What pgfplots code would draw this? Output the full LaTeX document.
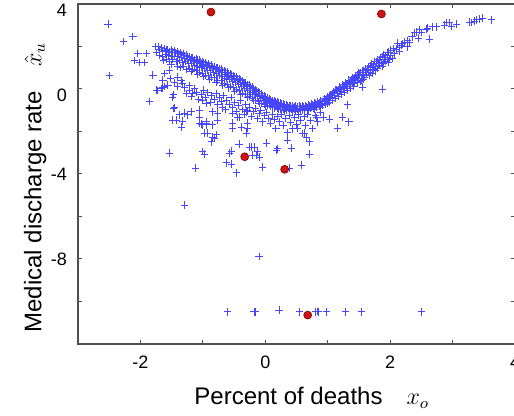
\documentclass[border=0pt]{standalone}
\usepackage{fontspec}
\setmainfont{Liberation Sans}
\usepackage{pgfplots}
\pgfplotsset{compat=1.18}
\usepackage{pgfplotstable}

\definecolor{spine}{RGB}{80,80,80}
\definecolor{crossblue}{RGB}{70,70,250}
\definecolor{dotred}{RGB}{205,20,20}
\definecolor{dotedge}{RGB}{130,0,0}

% blue crosses
\pgfplotstableread{
x y
-2.52 3.06
-2.27 2.23
-2.12 2.46
-2.04 1.68
-1.90 1.68
-2.10 1.33
-2.02 1.24
-1.94 1.24
-2.49 0.63
-1.80 0.66
-1.61 0.74
-1.64 0.42
-1.72 -0.08
-1.66 0.03
-1.61 0.11
-1.85 -0.60
-1.47 -0.28
-1.47 -0.91
-1.53 0.89
-1.29 -5.46
-0.10 -7.90
-0.60 -10.49
-0.18 -10.49
-0.16 -10.49
0.22 -10.40
0.55 -10.49
0.81 -10.49
0.83 -10.47
0.85 -10.49
0.98 -10.49
1.29 -10.49
1.54 -10.49
2.50 -10.49
-1.76 2.00
-1.74 1.72
-1.71 1.98
-1.69 1.85
-1.70 1.60
-1.66 1.95
-1.64 1.78
-1.65 1.52
-1.63 1.33
-1.61 1.90
-1.59 1.83
-1.60 1.64
-1.58 1.41
-1.56 1.87
-1.54 1.76
-1.55 1.58
-1.53 1.29
-1.51 1.84
-1.49 1.74
-1.50 1.55
-1.48 1.40
-1.51 1.16
-1.46 1.80
-1.44 1.70
-1.45 1.52
-1.43 1.31
-1.41 1.76
-1.39 1.68
-1.40 1.55
-1.38 1.35
-1.41 1.08
-1.36 1.71
-1.34 1.63
-1.35 1.47
-1.33 1.25
-1.36 1.02
-1.31 1.65
-1.29 1.58
-1.30 1.45
-1.28 1.28
-1.31 1.05
-1.26 1.60
-1.24 1.52
-1.25 1.40
-1.23 1.18
-1.26 0.93
-1.21 1.53
-1.19 1.47
-1.20 1.36
-1.18 1.20
-1.21 0.98
-1.19 0.82
-1.16 1.48
-1.14 1.40
-1.15 1.30
-1.13 1.12
-1.16 0.90
-1.11 1.41
-1.09 1.36
-1.10 1.25
-1.08 1.08
-1.11 0.85
-1.09 0.70
-1.06 1.36
-1.04 1.29
-1.05 1.18
-1.03 1.02
-1.06 0.80
-1.01 1.29
-0.99 1.24
-1.00 1.12
-0.98 0.96
-1.01 0.75
-0.99 0.58
-0.96 1.24
-0.94 1.17
-0.95 1.06
-0.93 0.88
-0.96 0.66
-0.91 1.18
-0.89 1.12
-0.90 1.02
-0.88 0.85
-0.91 0.63
-0.89 0.46
-0.86 1.13
-0.84 1.06
-0.85 0.95
-0.83 0.78
-0.86 0.55
-0.81 1.07
-0.79 1.01
-0.80 0.90
-0.78 0.73
-0.81 0.52
-0.79 0.33
-0.76 1.01
-0.74 0.94
-0.75 0.83
-0.73 0.65
-0.76 0.42
-0.71 0.94
-0.69 0.88
-0.70 0.77
-0.68 0.60
-0.71 0.38
-0.69 0.19
-0.66 0.87
-0.64 0.80
-0.65 0.69
-0.63 0.51
-0.66 0.28
-0.61 0.80
-0.59 0.74
-0.60 0.62
-0.58 0.45
-0.61 0.23
-0.59 0.05
-0.56 0.73
-0.54 0.66
-0.55 0.54
-0.53 0.36
-0.56 0.12
-0.51 0.65
-0.49 0.59
-0.50 0.47
-0.48 0.30
-0.51 0.07
-0.49 -0.10
-0.46 0.57
-0.44 0.50
-0.45 0.38
-0.43 0.20
-0.46 -0.03
-0.41 0.49
-0.39 0.43
-0.40 0.31
-0.38 0.14
-0.41 -0.08
-0.39 -0.25
-0.36 0.39
-0.34 0.32
-0.35 0.20
-0.33 0.03
-0.36 -0.19
-0.31 0.29
-0.29 0.23
-0.30 0.11
-0.28 -0.06
-0.31 -0.26
-0.29 -0.40
-0.26 0.19
-0.24 0.12
-0.25 0.01
-0.23 -0.15
-0.26 -0.36
-0.21 0.09
-0.19 0.03
-0.20 -0.08
-0.18 -0.24
-0.21 -0.43
-0.19 -0.54
-0.16 -0.02
-0.14 -0.08
-0.15 -0.19
-0.13 -0.34
-0.16 -0.52
-0.11 -0.13
-0.09 -0.19
-0.10 -0.29
-0.08 -0.43
-0.11 -0.60
-0.09 -0.70
-0.06 -0.23
-0.04 -0.29
-0.05 -0.39
-0.03 -0.52
-0.06 -0.68
-0.01 -0.33
0.01 -0.38
0.00 -0.47
0.02 -0.59
-0.01 -0.73
0.01 -0.80
0.04 -0.41
0.06 -0.46
0.05 -0.55
0.07 -0.66
0.04 -0.79
0.09 -0.49
0.11 -0.53
0.10 -0.61
0.12 -0.71
0.09 -0.83
0.11 -0.89
0.14 -0.55
0.16 -0.59
0.15 -0.67
0.17 -0.77
0.14 -0.89
0.19 -0.61
0.21 -0.65
0.20 -0.72
0.22 -0.81
0.19 -0.91
0.21 -0.96
0.24 -0.66
0.26 -0.70
0.25 -0.77
0.27 -0.86
0.24 -0.96
0.29 -0.71
0.31 -0.74
0.30 -0.81
0.32 -0.89
0.29 -0.98
0.31 -1.01
0.34 -0.74
0.36 -0.78
0.35 -0.84
0.37 -0.92
0.34 -1.01
0.39 -0.77
0.41 -0.80
0.40 -0.87
0.42 -0.95
0.39 -1.03
0.44 -0.79
0.46 -0.83
0.45 -0.89
0.47 -0.97
0.44 -1.04
0.49 -0.80
0.51 -0.84
0.50 -0.90
0.52 -0.98
0.49 -1.05
0.54 -0.80
0.56 -0.84
0.55 -0.91
0.57 -0.99
0.59 -0.79
0.61 -0.83
0.60 -0.89
0.62 -0.97
0.59 -1.03
0.64 -0.77
0.66 -0.81
0.65 -0.88
0.67 -0.96
0.69 -0.74
0.71 -0.78
0.70 -0.85
0.72 -0.93
0.69 -1.00
0.74 -0.70
0.76 -0.74
0.75 -0.82
0.77 -0.91
0.79 -0.65
0.81 -0.70
0.80 -0.78
0.82 -0.88
0.79 -0.96
0.84 -0.59
0.86 -0.64
0.85 -0.72
0.87 -0.83
0.89 -0.53
0.91 -0.58
0.90 -0.67
0.92 -0.78
0.89 -0.86
0.94 -0.45
0.96 -0.50
0.95 -0.60
0.97 -0.72
0.99 -0.36
1.01 -0.42
1.00 -0.52
1.02 -0.64
0.99 -0.70
1.04 -0.25
1.06 -0.31
1.05 -0.41
1.07 -0.55
1.09 -0.13
1.11 -0.19
1.10 -0.30
1.12 -0.44
1.14 -0.02
1.16 -0.09
1.15 -0.20
1.17 -0.35
1.19 0.09
1.21 0.02
1.20 -0.10
1.22 -0.24
1.24 0.20
1.26 0.13
1.25 0.01
1.27 -0.15
1.29 0.31
1.31 0.24
1.30 0.11
1.32 -0.05
1.34 0.42
1.36 0.33
1.35 0.20
1.37 0.04
1.39 0.54
1.41 0.46
1.40 0.32
1.42 0.14
1.44 0.65
1.46 0.55
1.45 0.40
1.49 0.76
1.51 0.67
1.50 0.50
1.52 0.34
1.55 0.86
1.56 0.62
1.60 0.97
1.61 0.78
1.59 0.55
1.65 1.06
1.66 0.85
1.70 1.20
1.71 1.00
1.69 0.78
1.75 1.28
1.76 1.05
1.80 1.40
1.81 1.18
1.79 0.95
1.85 1.50
1.86 1.25
1.90 1.62
1.91 1.40
1.89 1.18
1.95 1.70
1.96 1.48
2.00 1.83
2.01 1.60
1.99 1.38
2.05 1.92
2.07 1.65
1.03 -0.30
1.08 -0.22
1.13 -0.05
1.18 0.00
1.23 0.12
1.28 0.22
1.33 0.36
1.38 0.45
1.43 0.52
1.48 0.68
1.53 0.78
1.58 0.88
1.63 0.92
1.68 1.10
1.73 1.15
1.78 1.30
1.83 1.38
1.88 1.52
1.93 1.58
1.98 1.74
1.47 0.30
1.57 0.45
1.67 0.65
1.77 0.85
1.87 1.05
1.97 1.25
1.43 0.25
1.62 0.68
1.73 0.90
1.83 1.10
1.93 1.30
2.03 1.45
2.10 1.88
2.15 1.95
2.20 2.12
2.28 2.30
2.15 1.75
2.12 2.16
2.18 2.07
2.23 2.21
2.31 2.21
2.27 1.98
2.35 2.45
2.39 2.64
2.42 2.68
2.47 2.78
2.50 2.64
2.45 2.40
2.58 2.82
2.60 2.87
2.68 2.92
2.74 2.92
2.63 2.35
2.87 3.01
2.90 3.11
2.95 3.11
2.98 2.96
3.06 3.06
3.27 3.15
3.30 3.11
3.35 3.20
3.38 3.25
3.43 3.29
3.48 3.34
3.62 3.25
1.03 -1.41
1.16 -1.84
1.24 -1.32
1.34 -1.55
1.32 -0.75
1.56 0.09
1.88 0.00
1.72 0.75
1.54 0.42
-1.53 -3.01
-1.12 -3.72
-1.00 -2.96
-0.97 -3.06
-0.84 -2.26
-0.81 -2.31
-0.78 -2.16
-0.86 -2.49
-0.97 -2.07
-1.32 -1.51
-1.02 -1.65
-0.95 -1.69
-0.84 -1.69
-0.57 -3.01
-0.54 -2.92
-0.62 -3.48
-0.54 -3.53
-0.46 -3.95
-0.42 -2.59
-0.30 -2.07
-0.28 -1.84
-0.22 -2.73
-0.14 -3.11
-1.48 -1.46
-1.37 -1.22
-1.24 -1.22
-1.45 -0.89
-1.48 -0.38
-1.34 -1.79
-1.18 -1.08
-1.05 -0.99
-1.05 -1.60
-1.00 -1.69
-0.94 -1.60
-0.92 -2.07
-0.76 -1.13
-0.68 -0.89
-0.52 -1.13
-0.44 -1.36
-0.52 -1.84
-0.38 -1.79
-1.64 0.05
-1.74 -0.05
-1.56 0.19
-1.80 0.66
-0.25 -2.73
-0.09 -3.20
-0.04 -3.67
0.39 -3.72
0.58 -3.58
0.71 -3.06
0.42 -2.78
0.18 -2.87
0.02 -2.54
0.66 -2.26
0.71 -2.49
0.52 -1.84
0.82 -1.36
-0.17 -2.73
-0.12 -2.96
-0.20 -3.11
0.36 -2.40
0.20 -2.82
0.63 -2.07
-1.40 0.56
-1.32 0.28
-1.21 -0.05
-1.16 -0.19
-1.00 -0.52
-0.94 -0.66
-1.05 -1.32
-0.94 -1.55
-0.84 -1.08
-0.76 -1.46
-0.68 -0.85
-0.52 -1.60
-0.41 -1.32
-0.30 -1.08
-0.28 -1.60
-1.29 -1.13
-1.42 -1.46
-1.52 0.48
-1.45 0.30
-1.40 0.12
-1.35 0.38
-1.30 0.05
-1.26 -0.20
-1.22 0.18
-1.18 -0.35
-1.14 0.02
-1.10 -0.15
-1.07 -0.48
-1.03 -0.25
-0.99 -0.05
-0.96 -0.40
-0.92 -0.18
-0.88 -0.62
-0.86 -0.30
-0.82 -0.48
-0.79 -0.20
-0.76 -0.75
-0.73 -0.42
-0.70 -0.58
-0.67 -0.30
-0.64 -0.95
-0.62 -0.55
-0.58 -0.72
-0.55 -0.40
-0.52 -0.88
-0.49 -0.62
-0.46 -1.05
-0.43 -0.78
-0.40 -0.55
-0.37 -0.95
-0.34 -1.20
-0.31 -0.72
-0.28 -1.02
-0.25 -0.85
-0.22 -1.28
-0.19 -1.05
-0.16 -0.92
-0.13 -1.40
-0.10 -1.15
-0.07 -1.02
-0.04 -1.55
-0.01 -1.25
0.02 -1.10
0.05 -1.38
0.08 -1.62
0.11 -1.22
0.14 -1.45
0.17 -1.85
0.20 -1.30
0.23 -1.55
0.26 -1.18
0.29 -1.70
0.32 -1.40
0.35 -2.05
0.38 -1.25
0.41 -1.58
0.44 -1.88
0.47 -1.35
0.50 -1.65
0.53 -1.22
0.56 -1.50
0.59 -2.10
0.62 -1.30
0.65 -1.72
0.68 -1.20
0.72 -1.48
0.76 -1.85
0.80 -1.25
0.84 -1.55
0.88 -1.10
0.93 -1.32
}\crosses

\pgfplotstableread{
x y
-0.87 3.62
1.86 3.53
-0.33 -3.19
0.31 -3.78
0.68 -10.64
}\dots

\begin{document}
\begin{tikzpicture}
\begin{axis}[
    name=ax,
    scale only axis,
    width=218.5pt, height=170pt,
    xmin=-3, xmax=4,
    ymin=-12, ymax=4,
    axis line style={spine, line width=0.7pt},
    tick style={spine, line width=0.5pt},
    major tick length=2.2pt,
    tick align=inside,
    tick pos=both,
    xtick={-2,-1,...,4},
    xticklabels={-2,,0,,2,,4},
    ytick={-10,-8,...,4},
    yticklabels={,-8,,-4,,\raisebox{-3pt}[\height][\depth]{0},,\raisebox{-3pt}[\height][\depth]{4}},
    tick label style={font=\fontsize{9}{10}\selectfont, black},
    x tick label style={yshift=-2.5pt},
    y tick label style={xshift=-2pt},
    xlabel={Percent of deaths\quad $x_o$},
    ylabel={Medical discharge rate\quad $\hat{x}_u$},
    label style={font=\fontsize{12}{14}\selectfont},
    xlabel style={at={(axis description cs:0.535,-0.159)}, anchor=center},
    ylabel style={at={(axis description cs:-0.098,0.46)}, anchor=center},
]
\addplot[only marks, mark=+, mark size=1.8pt, color=crossblue,
    mark options={line width=0.45pt}]
    table {\crosses};
\addplot[only marks, mark=*, mark size=2pt,
    mark options={fill=dotred, draw=dotedge, line width=0.3pt}]
    table {\dots};
\end{axis}
\pgfresetboundingbox
\path[use as bounding box]
    ([shift={(-39pt,-35.5pt)}]ax.south west)
    rectangle ([shift={(-0.5pt,2pt)}]ax.north east);
\end{tikzpicture}
\end{document}
